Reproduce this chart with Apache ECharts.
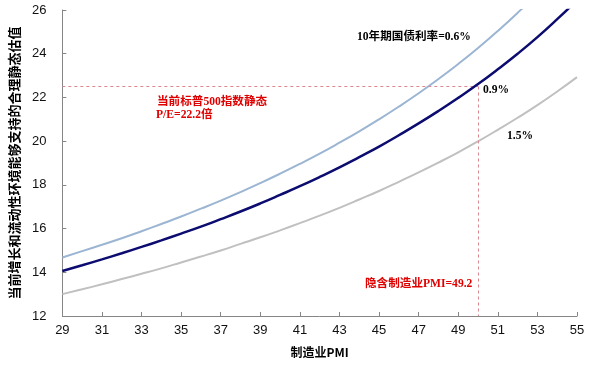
<!DOCTYPE html>
<html><head><meta charset="utf-8">
<script src="https://cdn.jsdelivr.net/npm/echarts@6/dist/echarts.min.js"></script>
<style>html,body{margin:0;padding:0;background:#fff}#c{width:598px;height:366px}</style>
</head><body><div id="c"></div>
<script>
const pmi = [29,30,31,32,33,34,35,36,37,38,39,40,41,42,43,44,45,46,47,48,49,50,51,52,53,54,55];
const pe06 = [14.68,14.97,15.26,15.56,15.88,16.21,16.55,16.91,17.28,17.67,18.08,18.51,18.96,19.43,19.93,20.45,21.00,21.58,22.19,22.84,23.53,24.26,25.04,25.87,26.75,27.70,28.72];
const pe09 = [14.06,14.32,14.59,14.87,15.16,15.46,15.77,16.09,16.43,16.78,17.15,17.54,17.94,18.36,18.80,19.27,19.75,20.27,20.81,21.38,21.98,22.61,23.29,24.00,24.76,25.58,26.44];
const pe15 = [13.00,13.22,13.45,13.69,13.93,14.18,14.45,14.72,15.00,15.30,15.60,15.92,16.25,16.59,16.95,17.33,17.72,18.14,18.57,19.02,19.49,19.99,20.52,21.07,21.65,22.27,22.93];
const refPE = 22.5;
const refPMI = 50;
const xMin = 29, xMax = 55, yMin = 12, yMax = 26;

const zip = a => pmi.map((p,i)=>[p,a[i]]);
const chart = echarts.init(document.getElementById('c'));
const cn = '"Noto Sans CJK SC", sans-serif';
const serif = '"Liberation Serif", "Noto Sans CJK SC", serif';
chart.setOption({
  animation:false,
  grid:{left:55,right:21,top:10,bottom:50},
  xAxis:{type:'value',min:xMin,max:xMax,interval:2,
    axisLine:{lineStyle:{color:'#868686'}},
    axisTick:{inside:true,length:4,lineStyle:{color:'#868686'}},
    splitLine:{show:false},
    axisLabel:{color:'#111',fontFamily:'"Liberation Sans", Arial',fontSize:13,margin:8},
    name:'制造业PMI',nameLocation:'middle',nameGap:30,
    nameTextStyle:{color:'#000',fontFamily:cn,fontWeight:'bold',fontSize:12}},
  yAxis:{type:'value',min:yMin,max:yMax,interval:2,
    axisLine:{show:true,lineStyle:{color:'#868686'}},
    axisTick:{show:true,inside:true,length:4,lineStyle:{color:'#868686'}},
    splitLine:{show:false},
    axisLabel:{color:'#111',fontFamily:'"Liberation Sans", Arial',fontSize:13,margin:16},
    name:'当前增长和流动性环境能够支持的合理静态估值',nameLocation:'middle',nameGap:33,
    nameTextStyle:{color:'#000',fontFamily:cn,fontWeight:'bold',fontSize:13}},
  series:[
    {type:'line',data:zip(pe06),symbol:'none',smooth:true,clip:true,
      lineStyle:{color:'#9bb5d3',width:2}},
    {type:'line',data:zip(pe15),symbol:'none',smooth:true,clip:true,
      lineStyle:{color:'#c0c0c0',width:2}},
    {type:'line',data:zip(pe09),symbol:'none',smooth:true,clip:true,z:5,
      lineStyle:{color:'#0b0b70',width:2.5},
      markLine:{symbol:'none',silent:true,label:{show:false},
        lineStyle:{color:'#d9898f',type:[3,3],width:1},
        data:[
          [{coord:[xMin,refPE]},{coord:[refPMI,refPE]}],
          [{coord:[refPMI,refPE]},{coord:[refPMI,yMin]}]
        ]}}
  ],
  graphic:[
    {type:'text',left:357,top:31,style:{text:'10年期国债利率=0.6%',fill:'#000',font:'bold 11.6px '+serif}},
    {type:'text',left:483,top:84,style:{text:'0.9%',fill:'#000',font:'bold 11.6px '+serif}},
    {type:'text',left:507,top:130,style:{text:'1.5%',fill:'#000',font:'bold 11.6px '+serif}},
    {type:'text',left:157,top:96,style:{text:'当前标普500指数静态',fill:'#e00000',font:'bold 11.6px '+serif}},
    {type:'text',left:156,top:109,style:{text:'P/E=22.2倍',fill:'#e00000',font:'bold 11.6px '+serif}},
    {type:'text',left:365,top:278,style:{text:'隐含制造业PMI=49.2',fill:'#e00000',font:'bold 11.6px '+serif}}
  ]
});
</script></body></html>
